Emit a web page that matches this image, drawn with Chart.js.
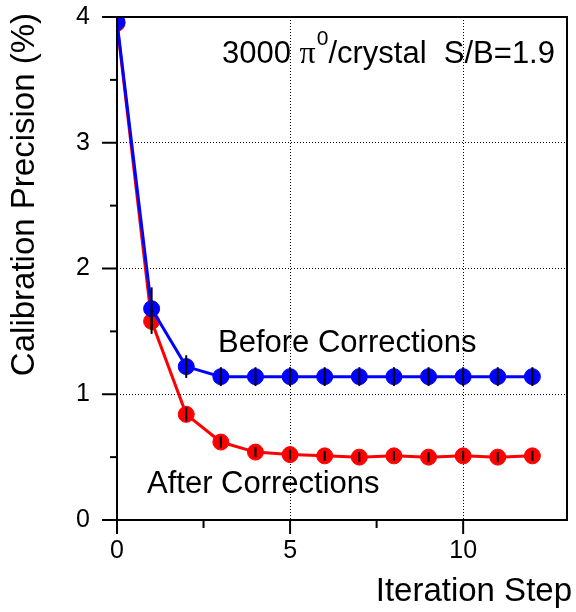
<!DOCTYPE html>
<html>
<head>
<meta charset="utf-8">
<script src="https://cdn.jsdelivr.net/npm/chart.js@4.4.0/dist/chart.umd.min.js"></script>
<style>
  html, body { margin: 0; padding: 0; background: #fff; }
</style>
</head>
<body>
<canvas id="graficoPrecisao" width="576" height="612"></canvas>
<script>
// passos de iteracao e precisao (%) antes e depois das correcoes
const passos = [0, 1, 2, 3, 4, 5, 6, 7, 8, 9, 10, 11, 12];
const antes = [3.96, 1.68, 1.22, 1.14, 1.14, 1.14, 1.14, 1.14, 1.14, 1.14, 1.14, 1.14, 1.14];
const antesErro = [0.05, 0.17, 0.09, 0.075, 0.075, 0.075, 0.075, 0.075, 0.075, 0.075, 0.075, 0.075, 0.075];
const depois = [3.95, 1.58, 0.84, 0.62, 0.54, 0.52, 0.51, 0.50, 0.51, 0.50, 0.51, 0.50, 0.51];
const depoisErro = [0.05, 0.1, 0.055, 0.045, 0.04, 0.04, 0.04, 0.04, 0.04, 0.04, 0.04, 0.04, 0.04];

const fonte = '"Liberation Sans", Arial, Helvetica, sans-serif';

function pontos(valores) {
  return passos.map((p, i) => ({ x: p, y: valores[i] }));
}

// as escalas nao reservam espaco extra para os rotulos das pontas
function ajustarEscala(s, largura, altura) {
  if (largura) s.width = largura;
  if (altura) s.height = altura;
  s.paddingTop = 0;
  s.paddingBottom = 0;
  s.paddingLeft = 0;
  s.paddingRight = 0;
}

// barras de erro verticais, desenhadas pelas escalas do grafico
const barrasErro = {
  id: 'barrasErro',
  afterDatasetsDraw(chart) {
    const { ctx, chartArea: a, scales: { x, y } } = chart;
    ctx.save();
    ctx.beginPath();
    ctx.rect(a.left, a.top, a.right - a.left, a.bottom - a.top);
    ctx.clip();
    ctx.strokeStyle = '#000';
    ctx.lineWidth = 2;
    chart.data.datasets.forEach(ds => {
      ds.data.forEach((p, i) => {
        const e = ds.erros[i];
        const px = x.getPixelForValue(p.x);
        ctx.beginPath();
        ctx.moveTo(px, y.getPixelForValue(p.y - e));
        ctx.lineTo(px, y.getPixelForValue(p.y + e));
        ctx.stroke();
      });
    });
    ctx.restore();
  }
};

// moldura e marcas dos eixos (maiores e menores)
const moldura = {
  id: 'moldura',
  afterDatasetsDraw(chart) {
    const { ctx, chartArea: a, scales: { x, y } } = chart;
    ctx.save();
    ctx.strokeStyle = '#000';
    ctx.lineWidth = 2;
    ctx.strokeRect(a.left, a.top, a.right - a.left, a.bottom - a.top);
    x.ticks.forEach(t => {
      if (t.value > 12.5) return;
      const px = x.getPixelForValue(t.value);
      const tam = t.value % 5 === 0 ? 14 : 8;
      ctx.beginPath();
      ctx.moveTo(px, a.bottom);
      ctx.lineTo(px, a.bottom + tam);
      ctx.stroke();
    });
    y.ticks.forEach(t => {
      const py = y.getPixelForValue(t.value);
      const tam = Number.isInteger(t.value) ? 15 : 7;
      ctx.beginPath();
      ctx.moveTo(a.left, py);
      ctx.lineTo(a.left - tam, py);
      ctx.stroke();
    });
    ctx.restore();
  }
};

// titulos dos eixos e textos dentro do grafico
const textos = {
  id: 'textos',
  afterDraw(chart) {
    const ctx = chart.ctx;
    ctx.save();
    ctx.fillStyle = '#000';
    ctx.textBaseline = 'alphabetic';
    ctx.textAlign = 'left';

    ctx.font = '31px ' + fonte;
    ctx.fillText('Before Corrections', 218, 352);
    ctx.fillText('After Corrections', 147, 493);

    // 3000 pi0/crystal  S/B=1.9
    let xt = 222;
    ctx.font = '31px ' + fonte;
    ctx.fillText('3000 ', xt, 63);
    xt += ctx.measureText('3000 ').width;
    ctx.font = '32px "Liberation Serif", "Times New Roman", serif';
    ctx.fillText('\u03c0', xt, 63);
    xt += ctx.measureText('\u03c0').width + 1;
    ctx.font = '21px ' + fonte;
    ctx.fillText('0', xt, 45);
    xt += ctx.measureText('0').width;
    ctx.font = '31px ' + fonte;
    ctx.fillText('/crystal  S/B=1.9', xt, 63);

    ctx.font = '33px ' + fonte;
    ctx.textAlign = 'right';
    ctx.fillText('Iteration Step', 572, 601);

    ctx.translate(34, 13);
    ctx.rotate(-Math.PI / 2);
    ctx.fillText('Calibration Precision (%)', 0, 0);
    ctx.restore();
  }
};

const ctx = document.getElementById('graficoPrecisao').getContext('2d');

new Chart(ctx, {
  type: 'line',
  data: {
    datasets: [
      {
        label: 'Before Corrections',
        data: pontos(antes),
        erros: antesErro,
        borderColor: '#0000ff',
        backgroundColor: '#0000ff',
        pointBackgroundColor: '#0000ff',
        pointBorderColor: '#0000ff',
        borderWidth: 3,
        pointRadius: 8,
        pointBorderWidth: 1,
        tension: 0,
        clip: 0,
        order: 0
      },
      {
        label: 'After Corrections',
        data: pontos(depois),
        erros: depoisErro,
        borderColor: '#ff0000',
        backgroundColor: '#ff0000',
        pointBackgroundColor: '#ff0000',
        pointBorderColor: '#ff0000',
        borderWidth: 3,
        pointRadius: 8,
        pointBorderWidth: 1,
        tension: 0,
        clip: 0,
        order: 1
      }
    ]
  },
  options: {
    responsive: false,
    animation: false,
    devicePixelRatio: 1,
    events: [],
    layout: { padding: { top: 17, right: 3, left: 0, bottom: 0 } },
    plugins: {
      legend: { display: false },
      tooltip: { enabled: false }
    },
    scales: {
      x: {
        type: 'linear',
        min: 0,
        max: 13,
        afterFit: s => ajustarEscala(s, 0, 92),
        ticks: {
          stepSize: 2.5,
          padding: 16,
          color: '#000',
          font: { size: 25, family: fonte },
          maxRotation: 0,
          autoSkip: false,
          callback: v => (v % 5 === 0 ? v : '')
        },
        grid: {
          drawTicks: false,
          lineWidth: 1,
          color: c => ([5, 10].includes(c.tick.value) ? '#000' : 'rgba(0,0,0,0)')
        },
        border: { display: false, dash: [1, 2] }
      },
      y: {
        type: 'linear',
        min: 0,
        max: 4,
        afterFit: s => ajustarEscala(s, 117, 0),
        ticks: {
          stepSize: 0.5,
          padding: 27,
          color: '#000',
          font: { size: 25, family: fonte },
          autoSkip: false,
          callback: v => (Number.isInteger(v) ? v : '')
        },
        grid: {
          drawTicks: false,
          lineWidth: 1,
          color: c => ([1, 2, 3].includes(c.tick.value) ? '#000' : 'rgba(0,0,0,0)')
        },
        border: { display: false, dash: [1, 2] }
      }
    }
  },
  plugins: [barrasErro, moldura, textos]
});
</script>
</body>
</html>
